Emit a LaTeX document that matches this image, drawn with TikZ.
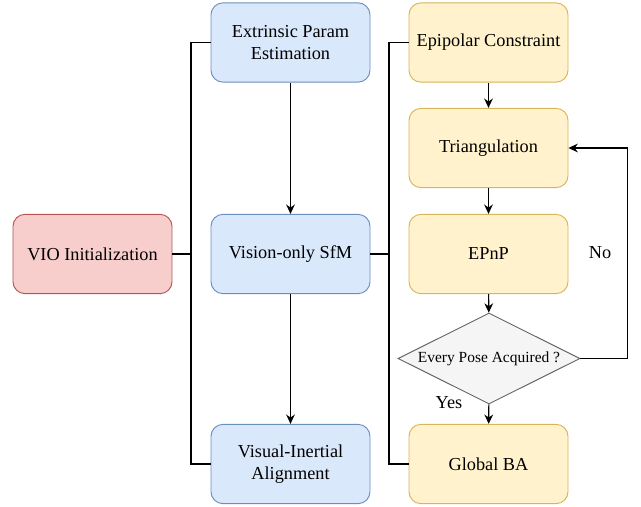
\documentclass[tikz,border=0pt]{standalone}
\usepackage{fontspec}
\setmainfont{Liberation Serif}
\usetikzlibrary{shapes.geometric,arrows.meta}

\definecolor{redfill}{HTML}{F8CECC}
\definecolor{redline}{HTML}{B85450}
\definecolor{bluefill}{HTML}{DAE8FC}
\definecolor{blueline}{HTML}{6C8EBF}
\definecolor{yellowfill}{HTML}{FFF2CC}
\definecolor{yellowline}{HTML}{D6B656}
\definecolor{greyfill}{HTML}{F5F5F5}
\definecolor{greyline}{HTML}{666666}

\begin{document}
\begin{tikzpicture}[
    x=0.3mm,y=-0.3mm,
    box/.style={draw,rounded corners=3.6mm,line width=0.8pt,
        minimum width=47.7mm,minimum height=23.8mm,align=center,
        font={\fontsize{15.6}{19}\selectfont}},
    redbox/.style={box,fill=redfill,draw=redline},
    bluebox/.style={box,fill=bluefill,draw=blueline},
    yellowbox/.style={box,fill=yellowfill,draw=yellowline},
    decision/.style={diamond,draw=greyline,fill=greyfill,line width=0.8pt,
        minimum width=54.6mm,minimum height=27.3mm,inner sep=0pt,
        font={\fontsize{13.2}{16}\selectfont}},
    link/.style={line width=0.9pt},
    arr/.style={link,-{Stealth[length=2.8mm,width=2.6mm,inset=0.9mm]}},
    answer/.style={font={\fontsize{15.6}{19}\selectfont}},
    ]
    \useasboundingbox (0,0) rectangle (641,506);

    % Left column
    \node[redbox] (vio) at (92.5,254) {VIO Initialization};

    % Middle column
    \node[bluebox] (ext) at (290.5,42.5) {Extrinsic Param\\Estimation};
    \node[bluebox] (sfm) at (290.5,254) {Vision-only SfM};
    \node[bluebox] (via) at (290.5,464) {Visual-Inertial\\Alignment};

    % Right column
    \node[yellowbox] (epi) at (488.5,42.5) {Epipolar Constraint};
    \node[yellowbox] (tri) at (488.5,148) {Triangulation};
    \node[yellowbox] (pnp) at (488.5,254) {EPnP};
    \node[decision] (pose) at (489,358.5) {\makebox[0pt]{Every Pose Acquired ?}};
    \node[yellowbox] (gba) at (488.5,464) {Global BA};

    % Brackets
    \coordinate (lj) at (191,254);
    \coordinate (rj) at (389,254);
    \draw[link] (vio) -- (lj);
    \draw[link] (ext.west) -| (lj) |- (via.west);
    \draw[link] (sfm) -- (rj);
    \draw[link] (epi.west) -| (rj) |- (gba.west);

    % Arrows
    \draw[arr] (ext) -- (sfm);
    \draw[arr] (sfm) -- (via);
    \draw[arr] (epi) -- (tri);
    \draw[arr] (tri) -- (pnp);
    \draw[arr] (pnp) -- (pose);
    \draw[arr] (pose) -- (gba);

    % Loop back
    \draw[arr] (pose.east) -- ++(47,0) |- (tri.east);

    % Answers
    \node[answer] (no) at (600,253) {No};
    \node[answer] (yes) at (449,403) {Yes};

\end{tikzpicture}
\end{document}
